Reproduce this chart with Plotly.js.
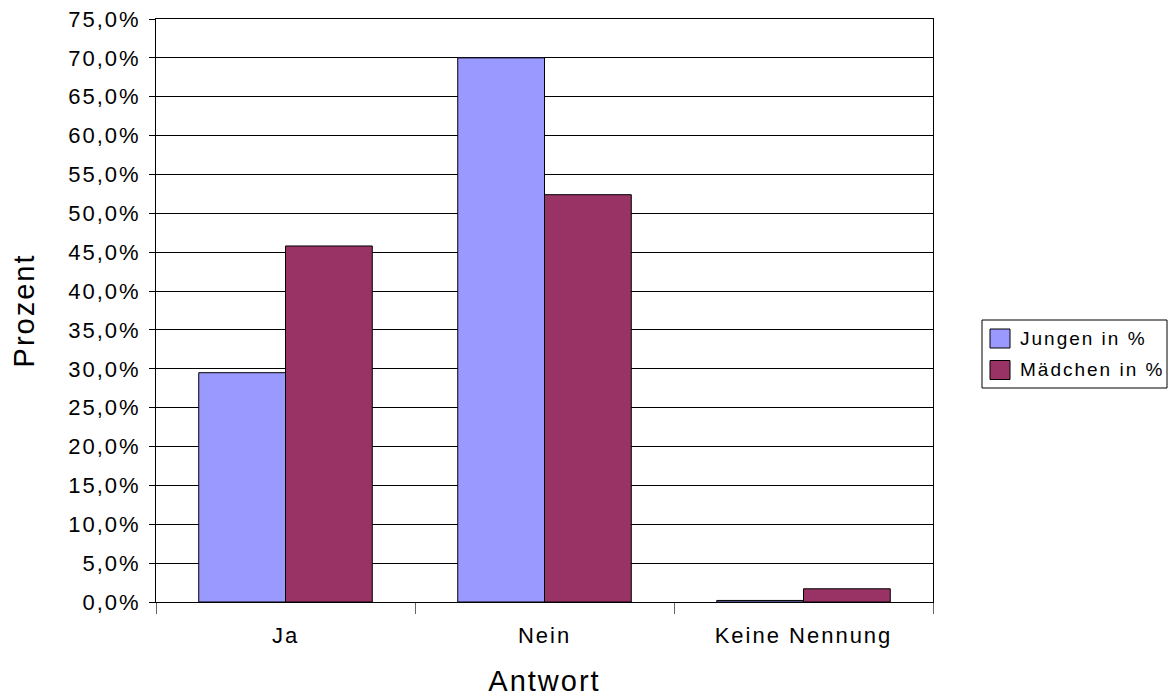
<!DOCTYPE html>
<html>
<head>
<meta charset="utf-8">
<script src="https://cdn.plot.ly/plotly-3.0.1.min.js"></script>
<style>
  html, body { margin: 0; padding: 0; background: #fff; }
  #chart { width: 1173px; height: 697px; }
  /* wide, airy lettering for all chart text (also used when Plotly measures text) */
  text { letter-spacing: 2px; }
</style>
</head>
<body>
<div id="chart"></div>
<script>
// Antworten nach Geschlecht, Anteile in Prozent
const categories = ["Ja", "Nein", "Keine Nennung"];
const jungen = [29.5, 70.0, 0.2];
const maedchen = [45.8, 52.4, 1.7];
const seriesNames = ["Jungen in %", "Mädchen in %"];
const seriesColors = ["#9999FF", "#993366"];

const font = "Liberation Sans, Arial, sans-serif";
const W = 1173, H = 697;
const margin = { l: 156, r: 240, t: 19, b: 95 };
const plotW = W - margin.l - margin.r;
const plotH = H - margin.t - margin.b;
// pixel position on the page -> paper coordinates
const px = v => (v - margin.l) / plotW;
const py = v => (H - margin.b - v) / plotH;

const bars = [jungen, maedchen].map((vals, i) => ({
  type: "bar", name: seriesNames[i], x: categories, y: vals,
  marker: { color: seriesColors[i], line: { color: "#000", width: 1 } }
}));

// boxed legend to the right of the plot
const legendBox = { x0: 982, x1: 1167, y0: 320, y1: 388 };
const rowCenters = [338.5, 370];
const swatch = { x0: 990, x1: 1010, half: 9.5 };
const shapes = [{
  type: "rect", xref: "paper", yref: "paper",
  x0: px(legendBox.x0), x1: px(legendBox.x1), y0: py(legendBox.y1), y1: py(legendBox.y0),
  line: { color: "#000", width: 1 }, fillcolor: "#fff", layer: "above"
}];
const annotations = [];
seriesNames.forEach((name, i) => {
  const c = rowCenters[i];
  shapes.push({
    type: "rect", xref: "paper", yref: "paper",
    x0: px(swatch.x0), x1: px(swatch.x1), y0: py(c + swatch.half), y1: py(c - swatch.half),
    line: { color: "#000", width: 1 }, fillcolor: seriesColors[i], layer: "above"
  });
  annotations.push({
    xref: "paper", yref: "paper", x: px(1018), y: py(c),
    xanchor: "left", yanchor: "middle", showarrow: false,
    text: name, font: { family: font, size: 19, color: "#000" }
  });
});

const layout = {
  width: W, height: H, margin: margin,
  paper_bgcolor: "#fff", plot_bgcolor: "#fff",
  font: { family: font, color: "#000", size: 22 },
  separators: ",.",
  barmode: "group",
  bargap: 0.33, bargroupgap: 0,
  showlegend: false,
  shapes: shapes,
  annotations: annotations,
  xaxis: {
    type: "category",
    showline: true, linecolor: "#000", linewidth: 1, mirror: true,
    showgrid: false, zeroline: false,
    ticks: "outside", tickson: "boundaries", ticklen: 11, tickcolor: "#666",
    ticklabelstandoff: 14,
    tickfont: { family: font, size: 22 },
    title: { text: "Antwort", font: { family: font, size: 29 }, standoff: 24 }
  },
  yaxis: {
    range: [0, 75], dtick: 5, tick0: 0,
    tickformat: ".1f", ticksuffix: "%",
    showline: true, linecolor: "#000", linewidth: 1, mirror: true,
    showgrid: true, gridcolor: "#000", gridwidth: 1, zeroline: false,
    ticks: "outside", ticklen: 6, tickcolor: "#000",
    ticklabelstandoff: 4,
    tickfont: { family: font, size: 22 },
    title: { text: "Prozent", font: { family: font, size: 29 }, standoff: 25 }
  }
};

Plotly.newPlot("chart", bars, layout, { displayModeBar: false, staticPlot: true });
</script>
</body>
</html>
